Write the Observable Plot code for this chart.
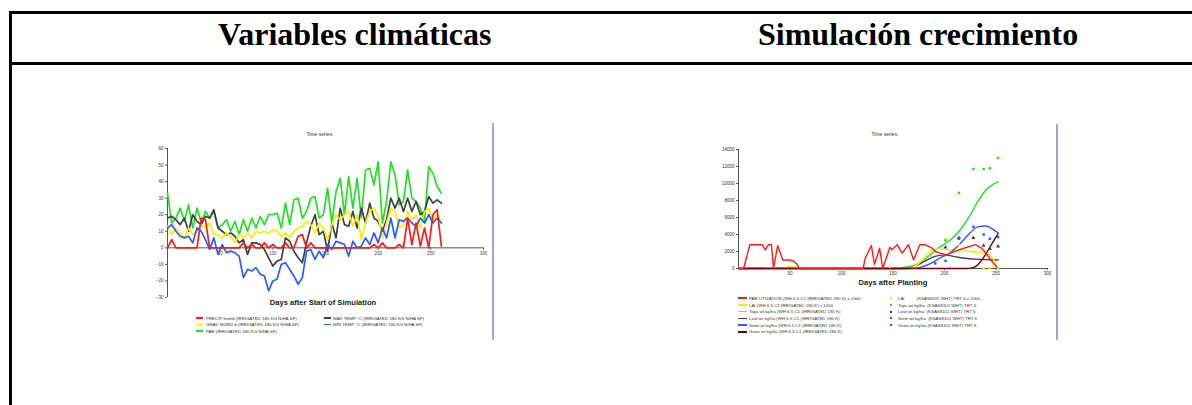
<!DOCTYPE html>
<html><head><meta charset="utf-8">
<script src="https://cdn.jsdelivr.net/npm/d3@7"></script>
<script src="https://cdn.jsdelivr.net/npm/@observablehq/plot@0.6"></script>
<style>
html,body{margin:0;padding:0;background:#fff}
body{width:1192px;height:405px;overflow:hidden;position:relative;font-family:"Liberation Sans",Arial,sans-serif}
.abs{position:absolute}
.bar{position:absolute;background:#000}
.hdr{position:absolute;font-family:"Liberation Serif","Times New Roman",serif;font-weight:bold;font-size:32px;line-height:32px;color:#000;white-space:nowrap}
.small{position:absolute;font-size:5px;line-height:5px;color:#333;white-space:nowrap;transform:translateX(-50%)}
.xl{position:absolute;font-size:7.6px;line-height:8px;font-weight:bold;color:#222;white-space:nowrap;transform:translateX(-50%)}
.leg{position:absolute;font-size:4.4px;line-height:5px;color:#333;white-space:nowrap}
.sw{position:absolute}
.frame{position:absolute;background:#a3a3d6;width:2px}
</style></head>
<body>
<div class="bar" style="left:9px;top:11px;width:1183px;height:3px"></div>
<div class="bar" style="left:9px;top:62px;width:1183px;height:3px"></div>
<div class="bar" style="left:9px;top:11px;width:3px;height:394px"></div>
<div class="hdr" id="h1" style="left:218px;top:18px">Variables climáticas</div>
<div class="hdr" id="h2" style="left:758px;top:18px">Simulación crecimiento</div>

<div class="small" style="left:320px;top:132px">Time series.</div>
<div class="small" style="left:885px;top:132px">Time series.</div>
<div class="xl" style="left:323px;top:299px">Days after Start of Simulation</div>
<div class="xl" style="left:893px;top:279px">Days after Planting</div>
<div class="frame" style="left:492px;top:123px;height:217px"></div>
<div class="frame" style="left:1056px;top:124px;height:216px"></div>

<div id="c1" class="abs" style="left:120px;top:125px"></div>
<div id="c2" class="abs" style="left:700px;top:125px"></div>
<div id="leg1"></div>
<div id="leg2"></div>

<script>
// ---------- Variables climáticas ----------
const climDays = [0,4,8,12,16,20,24,28,32,36,40,44,48,52,56,60,64,68,72,76,80,84,88,92,96,100,104,108,112,116,120,124,128,132,136,140,144,148,152,156,160,164,168,172,176,180,184,188,192,196,200,204,208,212,216,220,224,228,232,236,240,244,248,252,256,260];
const precip = [0,5,0,0,0,0,0,0,18,17, 0,0,0,0,0,0,0,0,3,0, 2,0,0,3,0,2,0,0,3,0, 0,7,8,0,3,0,0,0,0,0, 0,0,0,0,0,0,0,0,0,2, 0,3,0,0,0,2,0,18,2,15, 1,12,0,20,23,1];
const par = [33,15,18,24,16,26,12,24,15,22, 18,22,12,14,17,10,16,8,17,10, 18,12,19,14,20,20,21,12,27,14, 29,30,18,22,30,31,18,20,36,15, 34,42,20,43,24,42,18,47,48,38, 52,15,28,52,44,26,28,47,30,28, 24,16,49,45,37,33];
const tmax = [18,19,17,14,18,10,20,16,14,19, 18,23,12,10,8,9,7,3,5,-4, 3,3,2,-1,-6,-11,-8,-7,6,4, -2,-6,-9,3,13,20,8,10,-2,15, 6,24,14,13,22,12,24,15,27,18, 16,10,17,30,24,30,22,30,22,28, 20,22,31,27,29,27];
const tmin = [12,14,10,7,6,7,3,12,10,5, -1,6,-4,2,-3,-2,-3,-5,-18,-13, -14,-12,-16,-17,-26,-20,-19,-10,-9,-13, -17,-22,-18,-2,-1,-7,-2,-6,2,-1, 4,3,2,-5,4,0,1,6,2,9, 3,12,6,18,6,17,16,18,15,13, 18,15,20,15,18,15];
const grad = [13,8,12,9,6,12,8,10,14,12, 15,8,8,6,9,7,3,8,6,9, 6,10,9,10,9,11,10,7,9,6, 10,12,13,16,14,9,15,12,5,14, 20,17,20,22,13,20,5,15,22,24, 19,6,15,24,22,12,14,22,17,20, 12,22,24,17,20,15];
const climXTicks = [50,100,150,200,250,300];
const climYTicks = [-30,-20,-10,0,10,20,30,40,50,60];
const climLegend = [
  ["PRECIP mm/d (IRRIGATED 180 KG N/HA SF)", "#ff1a1a"],
  ["MAX TEMP °C (IRRIGATED 180 KG N/HA SF)", "#404040"],
  ["GRAD MJ/M2.d (IRRIGATED 180 KG N/HA SF)", "#f2f200"],
  ["MIN TEMP °C (IRRIGATED 180 KG N/HA SF)", "#2a5cff"],
  ["PAR (IRRIGATED 180 KG N/HA SF)", "#22e022"]
];

// ---------- Simulación crecimiento ----------
const parUtilDays = [0,5,11,23,26,29,32,34,38,43,49,53,57,59,121,123,129,132,137,140,147,149,154,159,165,170,176,181,188,191,196,202,208,214,222,230,236,241,245,252];
const parUtilVals = [0,0,2800,2800,2200,2800,2800,0,2700,1000,1000,900,500,0,0,1200,2700,500,2400,0,2500,2200,2800,1800,2800,1000,2800,2800,2400,2000,1800,1600,1900,2200,2500,2800,2400,1700,1000,0];
const laiSimDays = [0,40,45,50,55,58,60,165,172,180,188,195,205,215,225,235,243,248,252];
const laiSimVals = [0,0,100,200,150,50,0,0,300,1200,2200,2300,2200,2100,2000,1900,1700,1000,0];
const topsSimDays = [0,100,150,165,175,185,195,205,215,225,232,240,247,252];
const topsSimVals = [0,0,50,200,600,1500,2500,3300,4500,6300,7800,9200,9900,10200];
const leafSimDays = [0,40,50,58,62,160,170,180,190,200,210,220,230,240,252];
const leafSimVals = [0,50,120,80,0,0,200,800,1400,1600,1400,1200,1100,1050,1000];
const stemSimDays = [0,165,175,185,195,205,215,225,232,240,247,252];
const stemSimVals = [0,0,100,500,1200,1800,2900,4200,4900,5000,4600,4200];
const grainSimDays = [0,220,226,232,238,244,248,252];
const grainSimVals = [0,0,50,400,1300,2500,3300,4100];
const laiObsDays = [147,172,201,214,228,238,244,252];
const laiObsVals = [200,300,3500,2800,2000,0,0,0];
const topsObsDays = [201,214,228,238,244,252];
const topsObsVals = [3300,8900,11700,11700,11800,13000];
const leafObsDays = [201,214,228,238,244,252];
const leafObsVals = [2500,3600,3600,2700,2300,2600];
const stemObsDays = [191,201,214,228,238,244,252];
const stemObsVals = [600,900,3500,4900,4000,3500,3700];
const grainObsDays = [252];
const grainObsVals = [4700];
const growXTicks = [50,100,150,200,250,300];
const growYTicks = [0,2000,4000,6000,8000,10000,12000,14000];
const growLegendLeft = [
  ["PAR UTIZATION (WH 6.5 C1 (IRRIGATED 180 K) x 1000", "#ff1a1a"],
  ["LAI (WH 6.5 C1 IRRIGATED 180 K) x 1000", "#f2f200"],
  ["Tops wt kg/ha (WH 6.5 C1 (IRRIGATED 180 K)", "#66ee66"],
  ["Leaf wt kg/ha (WH 6.5 C1 (IRRIGATED 180 K)", "#404040"],
  ["Stem wt kg/ha (WH 6.5 C1 (IRRIGATED 180 K)", "#2a5cff"],
  ["Grain wt kg/ha (WH 6.5 C1 (IRRIGATED 180 K)", "#7a0000"]
];
const growLegendRight = [
  ["LAI          (KSAS8101 WHT) TRT 6 x 1000", "#f2f200"],
  ["Tops wt kg/ha  (KSAS8101 WHT) TRT 6", "#22e022"],
  ["Leaf wt kg/ha  (KSAS8101 WHT) TRT 6", "#404040"],
  ["Stem wt kg/ha  (KSAS8101 WHT) TRT 6", "#2a5cff"],
  ["Grain wt kg/ha (KSAS8101 WHT) TRT 6", "#cc2222"]
];

const FONT = "'Liberation Sans', Arial, sans-serif";
const rows = (xs, ys) => xs.map((d, i) => ({day: d, v: ys[i]}));

// Left chart
const climSeries = [
  [par, "#22e022"], [tmax, "#404040"], [grad, "#f2f200"], [tmin, "#2a5cff"], [precip, "#ff1a1a"]
];
const chart1 = Plot.plot({
  width: 380, height: 185,
  marginLeft: 47, marginRight: 17, marginTop: 23, marginBottom: 13,
  x: {domain: [0, 300], axis: null},
  y: {domain: [-30, 60]},
  style: {fontFamily: FONT, fontSize: "4.5px", color: "#333", background: "transparent", overflow: "visible"},
  marks: [
    Plot.axisY(climYTicks, {tickSize: 2, tickPadding: 2, fontSize: 4.5, label: null, stroke: "#555"}),
    Plot.ruleX([0], {y1: -30, y2: 60, stroke: "#555", strokeWidth: 1}),
    Plot.ruleY([0], {x1: 0, x2: 300, stroke: "#555", strokeWidth: 1}),
    Plot.ruleX(climXTicks, {x: d => d, y1: 0, y2: -1.4, stroke: "#555"}),
    Plot.text(climXTicks, {x: d => d, y: 0, dy: 6, text: d => String(d), fontSize: 4.5, fill: "#444"}),
    ...climSeries.map(([vals, c]) => Plot.line(rows(climDays, vals), {x: "day", y: "v", stroke: c, strokeWidth: 1.7, strokeLinejoin: "round"}))
  ]
});
document.getElementById("c1").appendChild(chart1);

// Right chart
const chart2 = Plot.plot({
  width: 360, height: 160,
  marginLeft: 38, marginRight: 13, marginTop: 24, marginBottom: 17,
  x: {domain: [0, 300]},
  y: {domain: [0, 14000]},
  style: {fontFamily: FONT, fontSize: "4.5px", color: "#333", background: "transparent", overflow: "visible"},
  marks: [
    Plot.axisY(growYTicks, {tickSize: 2, tickPadding: 2, fontSize: 4.5, label: null, tickFormat: d => String(d), stroke: "#555"}),
    Plot.axisX(growXTicks, {tickSize: 2, tickPadding: 1.5, fontSize: 4.5, label: null, stroke: "#555"}),
    Plot.ruleX([0], {y1: 0, y2: 14000, stroke: "#555"}),
    Plot.ruleY([0], {x1: 0, x2: 300, stroke: "#555"}),
    Plot.line(rows(topsSimDays, topsSimVals), {x: "day", y: "v", stroke: "#22e022", strokeWidth: 1.4, curve: "monotone-x"}),
    Plot.line(rows(leafSimDays, leafSimVals), {x: "day", y: "v", stroke: "#404040", strokeWidth: 1.4, curve: "monotone-x"}),
    Plot.line(rows(laiSimDays, laiSimVals), {x: "day", y: "v", stroke: "#f2f200", strokeWidth: 1.4, curve: "monotone-x"}),
    Plot.line(rows(stemSimDays, stemSimVals), {x: "day", y: "v", stroke: "#2a5cff", strokeWidth: 1.4, curve: "monotone-x"}),
    Plot.line(rows(grainSimDays, grainSimVals), {x: "day", y: "v", stroke: "#7a0000", strokeWidth: 1.4, curve: "monotone-x"}),
    Plot.line(rows(parUtilDays, parUtilVals), {x: "day", y: "v", stroke: "#ff1a1a", strokeWidth: 1.4, strokeLinejoin: "round"}),
    Plot.dot(rows(laiObsDays, laiObsVals), {x: "day", y: "v", r: 1.3, fill: "#f2f200", symbol: "square"}),
    Plot.dot(rows(topsObsDays, topsObsVals), {x: "day", y: "v", r: 1.4, fill: "#22e022", symbol: "square"}),
    Plot.dot(rows(leafObsDays, leafObsVals), {x: "day", y: "v", r: 1.5, fill: "#404040", symbol: "triangle"}),
    Plot.dot(rows(stemObsDays, stemObsVals), {x: "day", y: "v", r: 1.4, fill: "#2a5cff", symbol: "square"}),
    Plot.dot(rows(grainObsDays, grainObsVals), {x: "day", y: "v", r: 1.8, fill: "#cc2222", symbol: "plus"})
  ]
});
document.getElementById("c2").appendChild(chart2);

// Legends
function legend(host, entries, x0, swW, textX, ys, marker) {
  entries.forEach(([label, c], i) => {
    const y = ys[i];
    const s = document.createElement("div");
    s.className = "sw";
    if (marker) {
      s.style.cssText = `left:${x0}px;top:${y - 1}px;width:2px;height:2px;background:${c}`;
    } else {
      s.style.cssText = `left:${x0}px;top:${y - 0.8}px;width:${swW}px;height:1.6px;background:${c}`;
    }
    host.appendChild(s);
    const t = document.createElement("div");
    t.className = "leg";
    t.style.left = textX + "px";
    t.style.top = (y - 2.5) + "px";
    t.style.whiteSpace = "pre";
    t.textContent = label;
    host.appendChild(t);
  });
}
const l1 = document.getElementById("leg1");
legend(l1, [climLegend[0], climLegend[2], climLegend[4]], 196, 7, 206, [318, 324.5, 331], false);
legend(l1, [climLegend[1], climLegend[3]], 324, 7, 333, [318, 324.5], false);
const l2 = document.getElementById("leg2");
legend(l2, growLegendLeft, 738, 9, 749, [298, 305, 311.7, 318.4, 325.1, 331.8], false);
legend(l2, growLegendRight, 890, 0, 898, [298, 305, 311.7, 318.4, 325.1], true);
</script>
</body></html>
